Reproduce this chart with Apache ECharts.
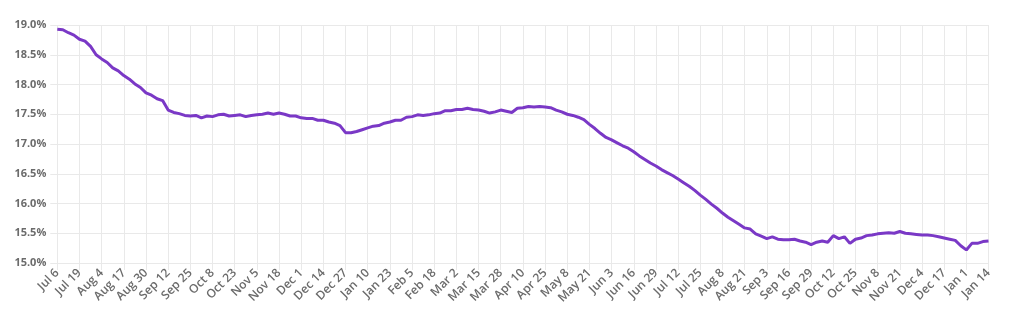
<!DOCTYPE html>
<html>
<head>
<meta charset="utf-8">
<script src="https://cdn.jsdelivr.net/npm/echarts@6/dist/echarts.min.js"></script>
<style>html,body{margin:0;padding:0;background:#fff;}#c{width:1024px;height:319px;}</style>
</head>
<body>
<div id="c"></div>
<script>
// Tick labels along the x axis (one every 4 data points)
const tickLabels = ["Jul 6","Jul 19","Aug 4","Aug 17","Aug 30","Sep 12","Sep 25","Oct 8","Oct 23","Nov 5","Nov 18","Dec 1","Dec 14","Dec 27","Jan 10","Jan 23","Feb 5","Feb 18","Mar 2","Mar 15","Mar 28","Apr 10","Apr 25","May 8","May 21","Jun 3","Jun 16","Jun 29","Jul 12","Jul 25","Aug 8","Aug 21","Sep 3","Sep 16","Sep 29","Oct 12","Oct 25","Nov 8","Nov 21","Dec 4","Dec 17","Jan 1","Jan 14"];
const pointsPerTick = 4;
// Series values (percent)
const rateValues = [
18.93,18.92,18.87,18.83,
18.76,18.73,18.64,18.50,
18.43,18.37,18.28,18.23,
18.15,18.09,18.01,17.95,
17.86,17.82,17.76,17.73,
17.57,17.53,17.51,17.48,
17.47,17.48,17.44,17.47,
17.46,17.49,17.50,17.47,
17.48,17.49,17.46,17.48,
17.49,17.50,17.52,17.50,
17.52,17.50,17.47,17.47,
17.44,17.43,17.43,17.40,
17.40,17.37,17.35,17.31,
17.19,17.19,17.21,17.24,
17.27,17.30,17.31,17.35,
17.37,17.40,17.40,17.45,
17.46,17.49,17.48,17.49,
17.51,17.52,17.56,17.56,
17.58,17.58,17.60,17.58,
17.57,17.55,17.52,17.54,
17.57,17.55,17.53,17.60,
17.61,17.63,17.62,17.63,
17.62,17.61,17.57,17.54,
17.50,17.48,17.45,17.41,
17.33,17.26,17.18,17.11,
17.07,17.02,16.97,16.93,
16.87,16.80,16.74,16.68,
16.63,16.57,16.52,16.47,
16.41,16.35,16.29,16.22,
16.14,16.07,15.99,15.92,
15.84,15.77,15.71,15.65,
15.59,15.57,15.49,15.45,
15.41,15.44,15.40,15.39,
15.39,15.40,15.37,15.35,
15.31,15.35,15.37,15.35,
15.46,15.41,15.44,15.33,
15.40,15.42,15.46,15.47,
15.49,15.50,15.51,15.50,
15.53,15.50,15.49,15.48,
15.47,15.47,15.46,15.44,
15.42,15.40,15.38,15.29,
15.22,15.33,15.33,15.36,
15.37
];
const chart = echarts.init(document.getElementById('c'), null, {renderer: 'canvas'});
const gridColor = '#e9e9e9';
chart.setOption({
  animation: false,
  grid: {left: 57.3, right: 35.5, top: 25, bottom: 56, containLabel: false},
  xAxis: {
    type: 'value',
    min: 0,
    max: (tickLabels.length - 1) * pointsPerTick,
    interval: pointsPerTick,
    axisLine: {show: true, lineStyle: {color: gridColor}},
    axisTick: {show: true, length: 7, lineStyle: {color: gridColor}},
    splitLine: {show: true, lineStyle: {color: gridColor}},
    axisLabel: {
      rotate: 45, margin: 8, color: '#6b6b6b', fontSize: 12, fontWeight: 600,
      fontFamily: 'Open Sans',
      formatter: v => tickLabels[Math.round(v / pointsPerTick)] || ''
    }
  },
  yAxis: {
    type: 'value',
    min: 15, max: 19, interval: 0.5,
    axisLine: {show: false},
    axisTick: {show: true, length: 7, lineStyle: {color: gridColor}},
    splitLine: {show: true, lineStyle: {color: gridColor}},
    axisLabel: {
      margin: 11, color: '#6b6b6b', fontSize: 11, fontWeight: 'bold',
      fontFamily: 'Open Sans',
      formatter: v => v.toFixed(1) + '%'
    }
  },
  series: [{
    type: 'line',
    data: rateValues.map((v, i) => [i, v]),
    showSymbol: false,
    smooth: false,
    lineStyle: {color: '#7a38c6', width: 3}
  }]
});
</script>
</body>
</html>
